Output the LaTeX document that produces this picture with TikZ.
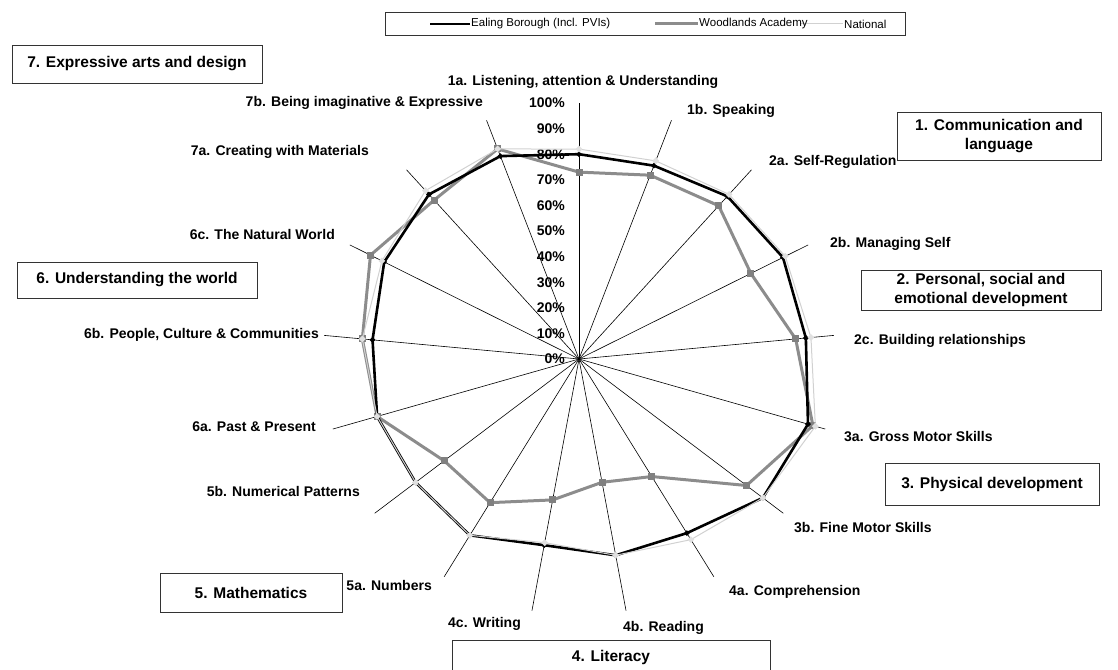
\documentclass[tikz,border=0pt]{standalone}
\usepackage{fontspec}
\setmainfont{Liberation Sans}
\usetikzlibrary{shapes.geometric}

% scores per strand, in axis order 1a ... 7b
\def\ealingdata{80,81,86,89,89,93,90,80,78,74,81,80,82,81,85,87,85}
\def\woodsdata{73,77,81,75,85,95,82,54,49,56,66,66,82,85,91,84,88}
\def\natdata{82,83,87,90,91,96,90,83,78,73,81,80,82,85,86,89,88}

\tikzset{
  axisline/.style={line width=0.6pt, black},
  catlabel/.style={font=\bfseries\fontsize{14}{16}\selectfont, inner sep=1pt},
  pctlabel/.style={font=\bfseries\fontsize{14}{16}\selectfont, anchor=east, inner sep=0pt},
  areabox/.style={draw=black!80, line width=0.7pt, align=center,
    font=\bfseries\fontsize{15.5}{18.5}\selectfont},
  ealing/.style={line width=2.6pt, black, line join=round},
  woods/.style={line width=3pt, black!45, line join=round},
  natline/.style={line width=1pt, black!18, line join=round},
  emark/.style={diamond, fill=black, inner sep=0pt, minimum size=6pt},
  wmark/.style={rectangle, fill=black!50, inner sep=0pt, minimum size=7pt},
  nmark/.style={diamond, fill=black!12, inner sep=0pt, minimum size=7pt},
  legtext/.style={font=\fontsize{11.5}{13}\selectfont, anchor=west, inner sep=1pt}
}

\begin{document}
\begin{tikzpicture}[x=1pt, y=-1pt]
  \useasboundingbox (0,0) rectangle (1118,669);

  % legend
  \draw[black!80, line width=0.6pt] (385,12) rectangle (905,35);
  \coordinate (le1) at (430,24); \coordinate (le2) at (470,24);
  \coordinate (lw1) at (655,24); \coordinate (lw2) at (698,24);
  \coordinate (ln1) at (800,24); \coordinate (ln2) at (843,24);
  \draw[ealing] (le1) -- (le2);
  \draw[woods] (lw1) -- (lw2);
  \draw[natline] (ln1) -- (ln2);
  \node[legtext] (leg1) at (le2) {Ealing Borough (Incl. PVIs)};
  \node[legtext] (leg2) at (lw2) {Woodlands Academy};
  \node[legtext] (leg3) at (ln2) {National};

  % area boxes
  \node[areabox, minimum width=250pt, minimum height=38pt] (box7) at (137,64) {7. Expressive arts and design};
  \node[areabox, minimum width=204pt, minimum height=48pt] (box1) at (999,136) {1. Communication and\\language};
  \node[areabox, minimum width=240pt, minimum height=40pt] (box2) at (981,290) {2. Personal, social and\\emotional development};
  \node[areabox, minimum width=214pt, minimum height=42pt] (box3) at (992,484) {3. Physical development};
  \node[areabox, minimum width=318pt, minimum height=34pt] (box4) at (611,657) {4. Literacy};
  \node[areabox, minimum width=182pt, minimum height=39pt] (box5) at (251,593) {5. Mathematics};
  \node[areabox, minimum width=240pt, minimum height=36pt] (box6) at (137,280) {6. Understanding the world};

  \begin{scope}[shift={(579,359)}]
    \coordinate (c) at (0,0);
    % spokes
    \foreach \k in {0,...,16}
      \coordinate (ax\k) at ({\k*360/17-90}:256);
    \foreach \k in {0,...,16}
      \draw[axisline] (c) -- (ax\k);

    % scale
    \foreach \p in {0,10,...,100}
      \node[pctlabel] (pct\p) at (-14,{-\p*2.56}) {\p\%};

    % data points
    \foreach \v [count=\i from 0] in \natdata
      \coordinate (n\i) at ({\i*360/17-90}:{\v*2.56});
    \foreach \v [count=\i from 0] in \woodsdata
      \coordinate (w\i) at ({\i*360/17-90}:{\v*2.56});
    \foreach \v [count=\i from 0] in \ealingdata
      \coordinate (e\i) at ({\i*360/17-90}:{\v*2.56});

    \draw[woods] (w0) \foreach \i in {1,...,16} {-- (w\i)} -- cycle;
    \foreach \i in {0,...,16}
      \node[wmark] at (w\i) {};
    \draw[ealing] (e0) \foreach \i in {1,...,16} {-- (e\i)} -- cycle;
    \foreach \i in {0,...,16}
      \node[emark] at (e\i) {};
    \draw[natline] (n0) \foreach \i in {1,...,16} {-- (n\i)} -- cycle;
    \foreach \i in {0,...,16}
      \node[nmark] at (n\i) {};
  \end{scope}

  % strand labels
  \node[catlabel] (l1a) at (583,82) {1a. Listening, attention \& Understanding};
  \node[catlabel, anchor=west] (l1b) at (686,111) {1b. Speaking};
  \node[catlabel, anchor=west] (l2a) at (768,162) {2a. Self-Regulation};
  \node[catlabel, anchor=west] (l2b) at (829,244) {2b. Managing Self};
  \node[catlabel, anchor=west] (l2c) at (853,341) {2c. Building relationships};
  \node[catlabel, anchor=west] (l3a) at (843,437) {3a. Gross Motor Skills};
  \node[catlabel, anchor=west] (l3b) at (793,527) {3b. Fine Motor Skills};
  \node[catlabel, anchor=west] (l4a) at (728,592) {4a. Comprehension};
  \node[catlabel, anchor=west] (l4b) at (622,628) {4b. Reading};
  \node[catlabel, anchor=east] (l4c) at (522,624) {4c. Writing};
  \node[catlabel, anchor=east] (l5a) at (433,585) {5a. Numbers};
  \node[catlabel, anchor=east] (l5b) at (361,491) {5b. Numerical Patterns};
  \node[catlabel, anchor=east] (l6a) at (317,427) {6a. Past \& Present};
  \node[catlabel, anchor=east] (l6b) at (320,335) {6b. People, Culture \& Communities};
  \node[catlabel, anchor=east] (l6c) at (336,234) {6c. The Natural World};
  \node[catlabel, anchor=east] (l7a) at (370,152) {7a. Creating with Materials};
  \node[catlabel, anchor=east] (l7b) at (484,103) {7b. Being imaginative \& Expressive};
\end{tikzpicture}
\end{document}
